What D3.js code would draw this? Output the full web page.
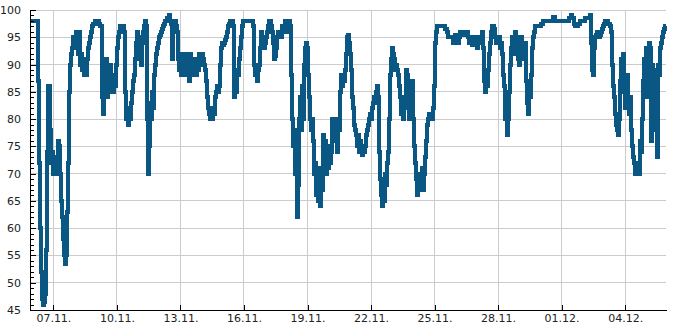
<!DOCTYPE html>
<html>
<head>
<meta charset="utf-8">
<script src="https://cdn.jsdelivr.net/npm/d3@7"></script>
<style>
  body { margin: 0; background: #fff; }
  .grid line { stroke: #cccccc; stroke-width: 1px; shape-rendering: crispEdges; }
  .axis text { font-family: "DejaVu Sans", sans-serif; font-size: 11px; fill: #222; }
  .axis path, .axis line { stroke: #000; shape-rendering: crispEdges; }
</style>
</head>
<body>
<div id="chart"></div>
<script>
// readings, one every 68 minutes starting 05.11. 21:30 (UTC)
var sampleStart = Date.UTC(2023, 10, 5, 21, 30);
var sampleMinutes = 68;
var humidity = [
  98,98,98,98,98,98,98,98,87,72,
  60,52,47,46,46.5,48,56,74,86,86,
  78,72,74,70,73,70,73,71,76,75,
  70,65,62,58,55,53.5,55,63,72,85,
  90,92,93,95,93,95,96,95,92,96,
  90,92,89,91,88,90,88,91,93,94,
  95,96,97,97.5,97.5,98,98,98,98,97.5,
  97,97,84,81,88,84,91,84,88,85,
  90,86,87,85,88,86,90,93,95,96,
  97,97,97,97,96,85,80,82,79,81,
  80,83,85,87,88,91,94,96,94,91,
  95,90,94,96,97,98,97,80,70,75,
  83,80,85,82,88,90,92,93,94,95,
  95.5,96,96.5,97,97.5,98,98,98.5,98.5,99,
  98,97.5,91,96,98,98,97,96,91,89,
  91,88,92,89,90,88,92,89,91,87,
  92,88,91,89,91,90,88,91,89,92,
  90,91,92,91,90,89,87,84,82,81,
  80,81,80,82,81,84,85,86,85,86,
  90,93,94,93.5,94,94.5,95,96,97,97.5,
  98,98,98,97,84,87,85,89,88,91,
  93,95,97,98,98,98,98,98,98,98,
  98,98,98,97,90,88,89,87,89,90,
  93,96,93,95,93,94,95,96,97,98,
  98,97,96,94,91,91.5,93,95,96,95,
  96,95,97,96,97,98,97,96,97,98,
  97,88,80,75,78,70,76,62,68,80,
  84,78,86,80,90,93,94,93,88,84,
  80,78,80,76,70,72,66,71,65,69,
  64,71,67,77,72,76,70,75,71,73,
  72,74,80,78,80,76,79,74,80,78,
  85,88,86,88,87,89,92,95,95.5,94,
  92,89,84,82,79,78,77,75,77,74,
  76,74,73.5,75,74,75,77,78,79,80,
  81,80,82,83,84,83,85,86,84,74,
  69,66,64,67,65,70,68,72,74,80,
  88,91,93,92,91,89,90,89,88,86,
  84,81,84,80,83,82,89,88,84,80,
  85,81,87,80,75,72,69,66,68,67,
  70,68,71,67,70,73,76,79,80,81,
  80,81,80,82,86,94,96,97,97,97,
  97,97,97,97,97,96.5,96.5,96,95,95,
  95,95,95,94,95,95.5,95,95,94,95,
  96,96,96,96,95.5,95.5,96,96,95,94,
  94,95,93.5,94,94,95,95,93,94,95,
  94,94,96,93,87,85,88,86,89,92,
  94,96,97,97,96.5,95,94,95,94,95,
  93,94,92,88,86,80,84,77,80,85,
  90,93,95,94,92,96,94,95,91,90,
  94,95,91,94,93,94,87,83,81,85,
  84,88,93,95,96,97,97,97,97,97,
  97,97.5,97.5,98,98,98,98,98,98,98,
  98,98,98,98.8,98.8,98,98,98,98,98,
  98,98,98,98,98,98,98,98,98,98.5,
  98.5,99,98.5,98.5,97.5,97,97,97,97.5,97.5,
  98,98,98,98,98,98.5,98.5,98.5,98.5,98.5,
  99,94,89,88,93,95,95.5,96,95.5,95,
  95.5,96,96.5,97,97.5,98,98,98,97.5,97.5,
  97,96,90,86,84,81,79,78,77,80,
  87,91,88,92,85,82,84,88,83,81,
  84,78,75,73,72,70,71,70,72,70,
  76,74,80,87,91,86,93,84,91,94,
  93,76,90,86,89,78,82,73,90,88,
  93,94,95,96,96.5,97,97
];
var tickDates = ["2023-11-07","2023-11-10","2023-11-13","2023-11-16","2023-11-19",
                 "2023-11-22","2023-11-25","2023-11-28","2023-12-01","2023-12-04"];
var yMajor = [45,50,55,60,65,70,75,80,85,90,95,100];

var width = 685, height = 330;
var margin = {top: 10, right: 19, bottom: 20, left: 30};

var parseDay = d3.utcParse("%Y-%m-%d");
var data = humidity.map(function(v, i) {
  return {t: new Date(sampleStart + i * sampleMinutes * 60000), v: v};
});

var svg = d3.select("#chart").append("svg")
    .attr("width", width)
    .attr("height", height);

var x = d3.scaleUtc()
    .domain(d3.extent(data, function(d) { return d.t; }))
    .range([margin.left, width - margin.right]);

var y = d3.scaleLinear()
    .domain([45, 100])
    .range([height - margin.bottom, margin.top]);

var ticks = tickDates.map(parseDay);
var yMinor = d3.range(45, 101).filter(function(d) { return d % 5 !== 0; });

// grid
var grid = svg.append("g").attr("class", "grid");
grid.selectAll(".h").data(yMajor.slice(1)).enter().append("line")
    .attr("x1", margin.left).attr("x2", width - margin.right)
    .attr("y1", function(d) { return y(d); }).attr("y2", function(d) { return y(d); });
grid.selectAll(".v").data(ticks).enter().append("line")
    .attr("x1", function(d) { return x(d); }).attr("x2", function(d) { return x(d); })
    .attr("y1", margin.top).attr("y2", height - margin.bottom);

// line
var line = d3.line()
    .x(function(d) { return x(d.t); })
    .y(function(d) { return y(d.v); })
    .curve(d3.curveStepAfter);

svg.append("path")
    .datum(data)
    .attr("fill", "none")
    .attr("stroke", "#0a5783")
    .attr("stroke-width", 4)
    .attr("shape-rendering", "crispEdges")
    .attr("d", line);

// axes
svg.append("g")
    .attr("class", "axis")
    .attr("transform", "translate(" + margin.left + ",0)")
    .call(d3.axisLeft(y).tickValues(yMinor).tickSize(-4).tickSizeOuter(0).tickFormat(""));

svg.append("g")
    .attr("class", "axis")
    .attr("transform", "translate(" + margin.left + ",0)")
    .call(d3.axisLeft(y).tickValues(yMajor).tickSize(-6).tickSizeOuter(0).tickPadding(9))
    .attr("font-family", null).attr("font-size", null);

svg.append("g")
    .attr("class", "axis")
    .attr("transform", "translate(0," + (height - margin.bottom) + ")")
    .call(d3.axisBottom(x).tickValues(ticks).tickSize(-5).tickSizeOuter(0).tickPadding(4)
      .tickFormat(d3.utcFormat("%d.%m.")))
    .attr("font-family", null).attr("font-size", null);
</script>
</body>
</html>
